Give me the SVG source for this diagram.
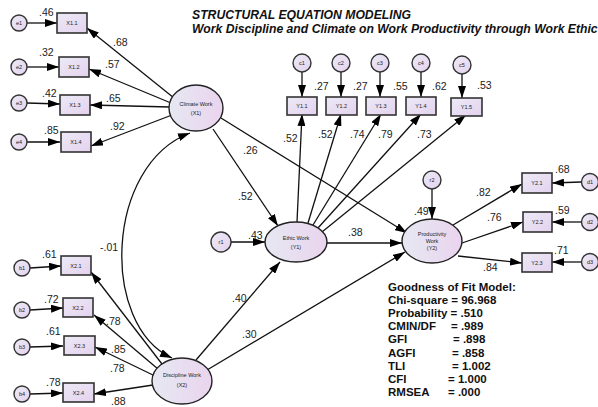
<svg xmlns="http://www.w3.org/2000/svg" width="598" height="407" viewBox="0 0 598 407">
<defs>
<linearGradient id="gb" x1="0" y1="0" x2="1" y2="1"><stop offset="0" stop-color="#ECEAF6"/><stop offset="1" stop-color="#E4D2EE"/></linearGradient>
<linearGradient id="ge" x1="0" y1="0" x2="1" y2="0"><stop offset="0" stop-color="#E6E8F2"/><stop offset="1" stop-color="#EAD4EE"/></linearGradient>
<marker id="ah" markerUnits="userSpaceOnUse" markerWidth="12" markerHeight="8" refX="12" refY="4" orient="auto-start-reverse"><path d="M0,0 L12,4 L0,8 z" fill="#000"/></marker>
</defs>
<style>
.bx{fill:url(#gb);stroke:#333;stroke-width:1.6}
.ci{fill:url(#gb);stroke:#333;stroke-width:1.4}
.el{fill:url(#ge);stroke:#222;stroke-width:1.4}
.t{font-family:"Liberation Sans",Arial,sans-serif;font-size:5.5px;fill:#222;text-anchor:middle}
.n{font-family:"Liberation Sans",Arial,sans-serif;font-size:10.5px;fill:#222}
.g{font-family:"Liberation Sans",Arial,sans-serif;font-size:11.5px;font-weight:bold;fill:#111}
.ti{font-family:"Liberation Sans",Arial,sans-serif;font-size:12.2px;font-weight:bold;font-style:italic;fill:#111}
.c path,.c line{stroke:#111;stroke-width:1.3;fill:none;marker-end:url(#ah)}
</style>
<text class="ti" x="192" y="19">STRUCTURAL EQUATION MODELING</text>
<text class="ti" x="192" y="33">Work Discipline and Climate on Work Productivity through Work Ethic</text>
<g id="connectors" class="c">
<line x1="27" y1="23" x2="57" y2="23"/>
<line x1="27" y1="67" x2="59" y2="67"/>
<line x1="27" y1="103" x2="60" y2="104"/>
<line x1="27" y1="142" x2="60" y2="142"/>
<line x1="174" y1="98" x2="87" y2="28"/>
<line x1="171" y1="103" x2="89" y2="69"/>
<line x1="170" y1="107" x2="90" y2="105"/>
<line x1="172" y1="115" x2="91" y2="146"/>
<line x1="30" y1="268" x2="61" y2="266"/>
<line x1="30" y1="310" x2="63" y2="308"/>
<line x1="30" y1="347" x2="63" y2="346"/>
<line x1="30" y1="394" x2="63" y2="393"/>
<line x1="162" y1="364" x2="91" y2="272"/>
<line x1="158" y1="369" x2="94" y2="315"/>
<line x1="155" y1="376" x2="95" y2="347"/>
<line x1="153" y1="385" x2="94" y2="394"/>
<path d="M190,133 C105,165 100,325 172,358" marker-start="url(#ah)"/>
<line x1="213" y1="129" x2="278" y2="226"/>
<line x1="221" y1="118" x2="407" y2="233"/>
<line x1="196" y1="360" x2="280" y2="262"/>
<line x1="207" y1="370" x2="405" y2="252"/>
<line x1="231" y1="242" x2="265" y2="242"/>
<line x1="327" y1="243" x2="402" y2="243"/>
<line x1="297" y1="222" x2="302" y2="114"/>
<line x1="308" y1="223" x2="341" y2="114"/>
<line x1="313" y1="225" x2="381" y2="114"/>
<line x1="318" y1="228" x2="421" y2="114"/>
<line x1="322" y1="232" x2="466" y2="115"/>
<line x1="302" y1="72" x2="302" y2="97"/>
<line x1="341" y1="72" x2="341" y2="97"/>
<line x1="380" y1="72" x2="380" y2="97"/>
<line x1="421" y1="72" x2="421" y2="97"/>
<line x1="462" y1="74" x2="462" y2="98"/>
<line x1="432" y1="189" x2="432" y2="219"/>
<line x1="453" y1="225" x2="522" y2="184"/>
<line x1="462" y1="243" x2="523" y2="222"/>
<line x1="458" y1="256" x2="522" y2="263"/>
<line x1="581" y1="182" x2="552" y2="183"/>
<line x1="581" y1="222" x2="552" y2="222"/>
<line x1="581" y1="262" x2="552" y2="262"/>
</g>
<g id="e1"><circle class="ci" cx="19" cy="23" r="8"/><text class="t" x="19" y="25">e1</text></g>
<g id="e2"><circle class="ci" cx="19" cy="67" r="8"/><text class="t" x="19" y="69">e2</text></g>
<g id="e3"><circle class="ci" cx="19" cy="103" r="8"/><text class="t" x="19" y="105">e3</text></g>
<g id="e4"><circle class="ci" cx="19" cy="142" r="8"/><text class="t" x="19" y="144">e4</text></g>
<g id="X1.1"><rect class="bx" x="57" y="13" width="30" height="20"/><text class="t" x="72" y="25">X1.1</text></g>
<g id="X1.2"><rect class="bx" x="59" y="57" width="30" height="20"/><text class="t" x="74" y="69">X1.2</text></g>
<g id="X1.3"><rect class="bx" x="60" y="95" width="30" height="20"/><text class="t" x="75" y="107">X1.3</text></g>
<g id="X1.4"><rect class="bx" x="61" y="132" width="30" height="20"/><text class="t" x="76" y="144">X1.4</text></g>
<g id="b1"><circle class="ci" cx="22" cy="268" r="8"/><text class="t" x="22" y="270">b1</text></g>
<g id="b2"><circle class="ci" cx="22" cy="310" r="8"/><text class="t" x="22" y="312">b2</text></g>
<g id="b3"><circle class="ci" cx="22" cy="347" r="8"/><text class="t" x="22" y="349">b3</text></g>
<g id="b4"><circle class="ci" cx="22" cy="394" r="8"/><text class="t" x="22" y="396">b4</text></g>
<g id="X2.1"><rect class="bx" x="61" y="256" width="30" height="19"/><text class="t" x="76" y="268">X2.1</text></g>
<g id="X2.2"><rect class="bx" x="63" y="298" width="30" height="19"/><text class="t" x="78" y="310">X2.2</text></g>
<g id="X2.3"><rect class="bx" x="64" y="336" width="31" height="19"/><text class="t" x="79.5" y="348">X2.3</text></g>
<g id="X2.4"><rect class="bx" x="63" y="383" width="31" height="19"/><text class="t" x="78.5" y="395">X2.4</text></g>
<g id="ClimateWork"><ellipse class="el" cx="196" cy="108" rx="27" ry="23"/><text class="t" x="196" y="106">Climate Work</text><text class="t" x="196" y="115">(X1)</text></g>
<g id="DisciplineWork"><ellipse class="el" cx="182" cy="381" rx="30" ry="23"/><text class="t" x="182" y="377">Discipline Work</text><text class="t" x="182" y="387">(X2)</text></g>
<g id="EthicWork"><ellipse class="el" cx="296" cy="242" rx="31" ry="20"/><text class="t" x="296" y="240">Ethic Work</text><text class="t" x="296" y="249">(Y1)</text></g>
<g id="ProductivityWork"><ellipse class="el" cx="432" cy="241" rx="30" ry="22"/><text class="t" x="432" y="236">Productivity</text><text class="t" x="432" y="243">Work</text><text class="t" x="432" y="250">(Y2)</text></g>
<g id="r1"><circle class="ci" cx="221" cy="242" r="10"/><text class="t" x="221" y="244">r1</text></g>
<g id="r2"><circle class="ci" cx="432" cy="180" r="9"/><text class="t" x="432" y="182">r2</text></g>
<g id="c1"><circle class="ci" cx="302" cy="63" r="9"/><text class="t" x="302" y="65">c1</text></g>
<g id="c2"><circle class="ci" cx="341" cy="63" r="9"/><text class="t" x="341" y="65">c2</text></g>
<g id="c3"><circle class="ci" cx="380" cy="63" r="9"/><text class="t" x="380" y="65">c3</text></g>
<g id="c4"><circle class="ci" cx="421" cy="63" r="9"/><text class="t" x="421" y="65">c4</text></g>
<g id="c5"><circle class="ci" cx="462" cy="65" r="9"/><text class="t" x="462" y="67">c5</text></g>
<g id="Y1.1"><rect class="bx" x="287" y="97" width="30" height="18"/><text class="t" x="302" y="108">Y1.1</text></g>
<g id="Y1.2"><rect class="bx" x="326" y="97" width="31" height="18"/><text class="t" x="341.5" y="108">Y1.2</text></g>
<g id="Y1.3"><rect class="bx" x="366" y="97" width="30" height="18"/><text class="t" x="381" y="108">Y1.3</text></g>
<g id="Y1.4"><rect class="bx" x="406" y="97" width="30" height="18"/><text class="t" x="421" y="108">Y1.4</text></g>
<g id="Y1.5"><rect class="bx" x="451" y="98" width="31" height="18"/><text class="t" x="466.5" y="109">Y1.5</text></g>
<g id="Y2.1"><rect class="bx" x="522" y="173" width="30" height="20"/><text class="t" x="537" y="185">Y2.1</text></g>
<g id="Y2.2"><rect class="bx" x="523" y="212" width="29" height="20"/><text class="t" x="537.5" y="224">Y2.2</text></g>
<g id="Y2.3"><rect class="bx" x="522" y="253" width="30" height="19"/><text class="t" x="537" y="265">Y2.3</text></g>
<g id="d1"><circle class="ci" cx="590" cy="182" r="8.5"/><text class="t" x="590" y="184">d1</text></g>
<g id="d2"><circle class="ci" cx="590" cy="222" r="8.5"/><text class="t" x="590" y="224">d2</text></g>
<g id="d3"><circle class="ci" cx="590" cy="262" r="8.5"/><text class="t" x="590" y="264">d3</text></g>
<g id="labels" class="n">
<text x="39" y="16">.46</text><text x="39" y="56">.32</text><text x="42" y="97">.42</text><text x="44" y="134">.85</text>
<text x="113" y="46">.68</text><text x="105" y="68">.57</text><text x="106" y="102">.65</text><text x="110" y="130">.92</text>
<text x="42" y="258">.61</text><text x="44" y="303">.72</text><text x="46" y="335">.61</text><text x="46" y="386">.78</text>
<text x="106" y="325">.78</text><text x="111" y="353">.85</text><text x="110" y="372">.78</text><text x="111" y="405">.88</text>
<text x="100" y="251">-.01</text>
<text x="238" y="200">.52</text><text x="243" y="154">.26</text>
<text x="248" y="239">.43</text><text x="348" y="236">.38</text>
<text x="232" y="302">.40</text><text x="242" y="338">.30</text>
<text x="314" y="90">.27</text><text x="353" y="90">.27</text><text x="393" y="90">.55</text><text x="432" y="90">.62</text><text x="477" y="89">.53</text>
<text x="283" y="142">.52</text><text x="318" y="138">.52</text><text x="350" y="138">.74</text><text x="378" y="138">.79</text><text x="417" y="138">.73</text>
<text x="414" y="215">.49</text>
<text x="476" y="196">.82</text><text x="487" y="221">.76</text><text x="483" y="271">.84</text>
<text x="555" y="173">.68</text><text x="555" y="214">.59</text><text x="554" y="254">.71</text>
</g>
<g id="fit" class="g">
<text x="388" y="291">Goodness of Fit Model:</text>
<text x="388" y="304">Chi-square = 96.968</text>
<text x="388" y="317">Probability = .510</text>
<text x="388" y="330">CMIN/DF</text><text x="451" y="330">= .989</text>
<text x="388" y="343">GFI</text><text x="453" y="343">= .898</text>
<text x="388" y="357">AGFI</text><text x="452" y="357">= .858</text>
<text x="388" y="370">TLI</text><text x="452" y="370">= 1.002</text>
<text x="388" y="383">CFI</text><text x="448" y="383">= 1.000</text>
<text x="388" y="396">RMSEA</text><text x="448" y="396">= .000</text>
</g>
</svg>
